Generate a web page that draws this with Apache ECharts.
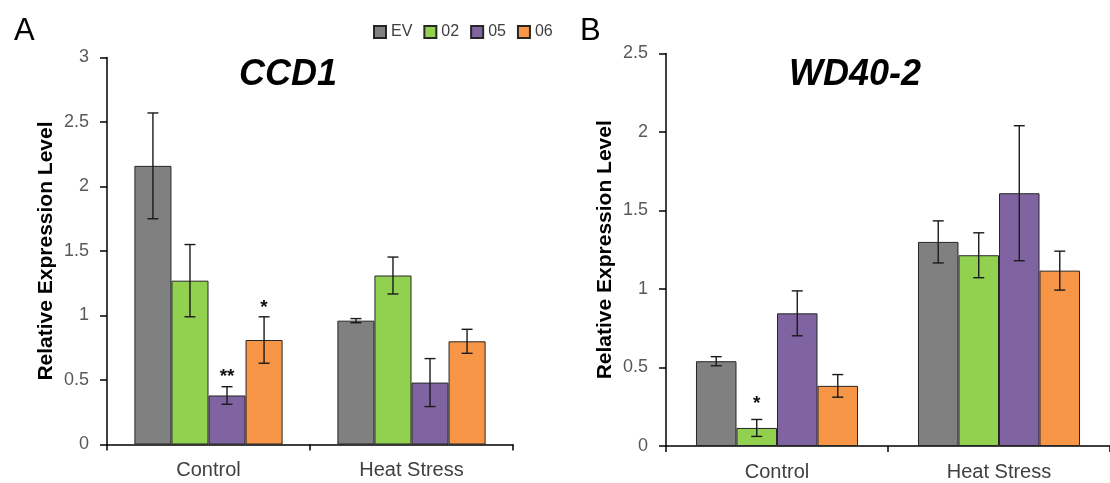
<!DOCTYPE html>
<html>
<head>
<meta charset="utf-8">
<script src="https://cdn.jsdelivr.net/npm/echarts@6/dist/echarts.min.js"></script>
<style>
html,body{margin:0;padding:0;background:#fff;}
#c{width:1110px;height:483px;}
</style>
</head>
<body>
<div id="c"></div>
<script>
// ---- data ----
const categories = ['Control', 'Heat Stress'];
const seriesNames = ['EV', '02', '05', '06'];
const colors = ['#808080', '#92d050', '#8064a2', '#f79646'];

// Panel A: CCD1
const ccd1EV = [2.16, 0.96];
const ccd1_02 = [1.27, 1.31];
const ccd1_05 = [0.38, 0.48];
const ccd1_06 = [0.81, 0.80];
const ccd1ErrEV = [0.41, 0.016];
const ccd1Err02 = [0.28, 0.143];
const ccd1Err05 = [0.068, 0.186];
const ccd1Err06 = [0.18, 0.093];
const ccd1SigEV = ['', ''];
const ccd1Sig02 = ['', ''];
const ccd1Sig05 = ['**', ''];
const ccd1Sig06 = ['*', ''];

// Panel B: WD40-2
const wd40EV = [0.54, 1.30];
const wd40_02 = [0.115, 1.215];
const wd40_05 = [0.845, 1.61];
const wd40_06 = [0.383, 1.117];
const wd40ErrEV = [0.029, 0.134];
const wd40Err02 = [0.054, 0.143];
const wd40Err05 = [0.143, 0.43];
const wd40Err06 = [0.072, 0.124];
const wd40SigEV = ['', ''];
const wd40Sig02 = ['*', ''];
const wd40Sig05 = ['', ''];
const wd40Sig06 = ['', ''];

const yTicksA = [0, 3, 0.5];   // min, max, interval
const yTicksB = [0, 2.5, 0.5];

// ---- build ----
const GAP = 0.27;
const fontFam = "'Liberation Sans', Arial, sans-serif";

function makeBars(vals, axisIdx) {
  return vals.map((v, i) => ({
    name: seriesNames[i],
    type: 'bar',
    xAxisIndex: axisIdx, yAxisIndex: axisIdx,
    data: v,
    barGap: '0%',
    barCategoryGap: (GAP * 100) + '%',
    itemStyle: { color: colors[i], borderColor: '#262626', borderWidth: 1 },
    z: 2
  }));
}

function makeErr(vals, errs, sigs, axisIdx, starLift) {
  const data = [];
  vals.forEach((arr, s) => arr.forEach((v, c) => data.push([c, v, errs[s][c], s, sigs[s][c]])));
  return {
    name: 'err' + axisIdx,
    type: 'custom',
    xAxisIndex: axisIdx, yAxisIndex: axisIdx,
    z: 5,
    data: data.map(d => d.slice(0, 4)),
    renderItem: function (params, api) {
      const c = api.value(0), v = api.value(1), e = api.value(2), s = api.value(3);
      const sig = data[params.dataIndex][4];
      const band = api.size([1, 0])[0];
      const bw = band * (1 - GAP) / 4;
      const x = api.coord([c, v])[0] + (s - 1.5) * bw;
      const yt = api.coord([c, v + e])[1];
      const yb = api.coord([c, v - e])[1];
      const hw = 5.5;
      const st = { stroke: '#1a1a1a', lineWidth: 1.4 };
      const children = [
        { type: 'line', shape: { x1: x, y1: yt, x2: x, y2: yb }, style: st },
        { type: 'line', shape: { x1: x - hw, y1: yt, x2: x + hw, y2: yt }, style: st },
        { type: 'line', shape: { x1: x - hw, y1: yb, x2: x + hw, y2: yb }, style: st }
      ];
      if (sig) {
        children.push({
          type: 'text',
          style: {
            text: sig, x: x, y: yt - starLift,
            align: 'center', verticalAlign: 'bottom',
            fontSize: 19, fontWeight: 'bold', fontFamily: fontFam, fill: '#111'
          }
        });
      }
      return { type: 'group', children: children };
    }
  };
}

function yAxis(t, gridIdx) {
  return {
    type: 'value', gridIndex: gridIdx,
    min: t[0], max: t[1], interval: t[2],
    name: 'Relative Expression Level',
    nameLocation: 'middle', nameGap: 50,
    nameTextStyle: { fontSize: 21, fontWeight: 'bold', color: '#000', fontFamily: fontFam },
    axisLine: { show: true, lineStyle: { color: '#000', width: 1.5 } },
    axisTick: { show: true, length: 7, lineStyle: { color: '#000', width: 1.5 } },
    axisLabel: { fontSize: 18, color: '#595959', margin: 18, fontFamily: fontFam },
    splitLine: { show: false }
  };
}
function xAxis(gridIdx) {
  return {
    type: 'category', gridIndex: gridIdx, data: categories,
    axisLine: { lineStyle: { color: '#000', width: 1.5 } },
    axisTick: { show: true, length: 6, lineStyle: { color: '#000', width: 1.5 } },
    axisLabel: { fontSize: 20, color: '#404040', margin: 16, fontFamily: fontFam }
  };
}

const option = {
  animation: false,
  backgroundColor: '#fff',
  title: [
    { text: 'A', left: 9, top: 11, textStyle: { fontSize: 31, fontWeight: 'normal', color: '#000', fontFamily: fontFam } },
    { text: 'B', left: 575, top: 11, textStyle: { fontSize: 31, fontWeight: 'normal', color: '#000', fontFamily: fontFam } },
    { text: 'CCD1', left: 283, textAlign: 'center', top: 52, textStyle: { fontSize: 36, fontWeight: 'bold', fontStyle: 'italic', color: '#000', fontFamily: fontFam } },
    { text: 'WD40-2', left: 850, textAlign: 'center', top: 52, textStyle: { fontSize: 36, fontWeight: 'bold', fontStyle: 'italic', color: '#000', fontFamily: fontFam } }
  ],
  legend: {
    data: seriesNames, left: 373, top: 24, icon: 'rect',
    itemWidth: 12, itemHeight: 12, itemGap: 11, padding: 0,
    textStyle: { fontSize: 16, color: '#404040', fontFamily: fontFam }
  },
  grid: [
    { left: 107, top: 57.5, width: 406, height: 387 },
    { left: 666, top: 53.5, width: 451, height: 392.5 }
  ],
  xAxis: [xAxis(0), xAxis(1)],
  yAxis: [yAxis(yTicksA, 0), yAxis(yTicksB, 1)],
  series: [].concat(
    makeBars([ccd1EV, ccd1_02, ccd1_05, ccd1_06], 0),
    makeBars([wd40EV, wd40_02, wd40_05, wd40_06], 1),
    [makeErr([ccd1EV, ccd1_02, ccd1_05, ccd1_06], [ccd1ErrEV, ccd1Err02, ccd1Err05, ccd1Err06], [ccd1SigEV, ccd1Sig02, ccd1Sig05, ccd1Sig06], 0, 0),
     makeErr([wd40EV, wd40_02, wd40_05, wd40_06], [wd40ErrEV, wd40Err02, wd40Err05, wd40Err06], [wd40SigEV, wd40Sig02, wd40Sig05, wd40Sig06], 1, 6)]
  )
};

const chart = echarts.init(document.getElementById('c'), null, { renderer: 'canvas' });
chart.setOption(option);
</script>
</body>
</html>
